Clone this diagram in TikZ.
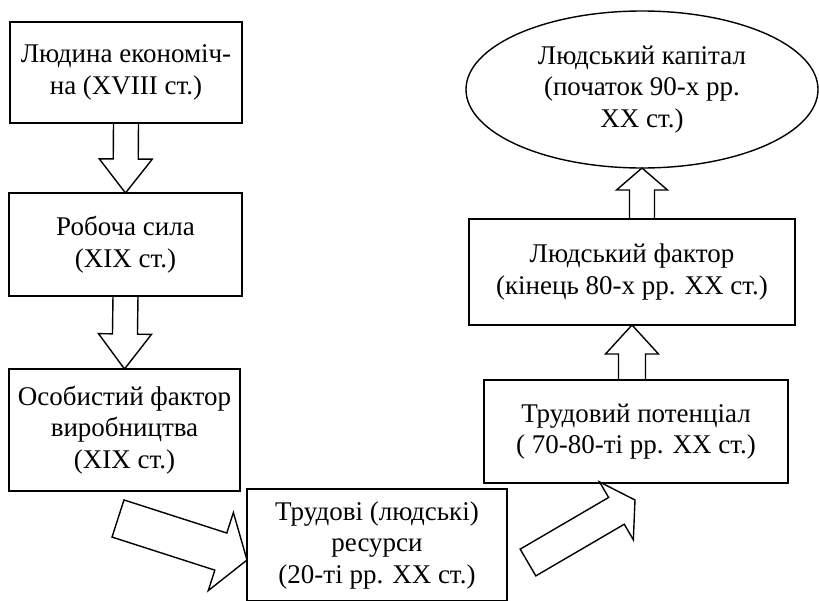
\documentclass[tikz,border=0pt]{standalone}
\usepackage{fontspec}
\setmainfont{Liberation Serif}
\usetikzlibrary{shapes.geometric,calc}
\tikzset{stage/.style={draw=fg,line width=1.4pt,inner sep=0pt,outer sep=0pt,align=center,font=\fontsize{27}{31.5}\selectfont}}
\tikzset{fat/.style={draw=fg,line width=1.4pt,line join=miter}}
\colorlet{fg}{black}
\colorlet{bg}{white}
% hollow arrow: tail, tip, half shaft, half head, head length
\newcommand{\fatarrow}[5]{%
  \coordinate (hb) at ($(#2)!#5!(#1)$);
  \draw[fat] ($(#1)!#3!90:(#2)$) -- ($(hb)!#3!90:(#2)$) -- ($(hb)!#4!90:(#2)$) -- (#2)
    -- ($(hb)!#4!-90:(#2)$) -- ($(hb)!#3!-90:(#2)$) -- ($(#1)!#3!-90:(#2)$) -- cycle;
}

\begin{document}
\begin{tikzpicture}[x=1pt,y=-1pt]
    \useasboundingbox[fill=bg] (0,0) rectangle (819,600);
    \node[stage,minimum width=232pt,minimum height=101pt] (ekon) at (126,72.5) {Людина економіч-\\на (XVIII ст.)};
    \node[stage,minimum width=233pt,minimum height=103pt] (syla) at (125.5,244.5) {Робоча сила\\(XIX ст.)};
    \node[stage,minimum width=231pt,minimum height=122pt] (osob) at (124.5,430) {Особистий фактор\\виробництва\\(XIX ст.)};
    \node[stage,minimum width=260pt,minimum height=112pt] (resursy) at (377,545) {Трудові (людські)\\ресурси\\(20-ті рр. XX ст.)};
    \node[stage,minimum width=304pt,minimum height=103pt] (potential) at (636,431.5) {Трудовий потенціал\\( 70-80-ті рр. XX ст.)};
    \node[stage,minimum width=326pt,minimum height=106pt] (factor) at (632,272) {Людський фактор\\(кінець 80-х рр. XX ст.)};
    \node[stage,ellipse,minimum width=352pt,minimum height=157pt] (capital) at (642,89.5) {Людський капітал\\(початок 90-х рр.\\XX ст.)};
    % arrows
    \coordinate (t1) at (118,518.5);
    \coordinate (r1) at ($(resursy.west)+(0,15)$);
    \coordinate (t2) at (528,562.5);
    \coordinate (r2) at (635,500);
    \coordinate (p5) at (potential.north -| factor.south);
    \coordinate (p6) at (factor.north -| capital.south);
    \fatarrow{ekon.south}{syla.north}{12.5pt}{26.5pt}{34pt}
    \fatarrow{syla.south}{osob.north}{12.5pt}{26.5pt}{35pt}
    \fatarrow{t1}{r1}{19.5pt}{41pt}{27.5pt}
    \fatarrow{t2}{r2}{15.5pt}{33.5pt}{21.5pt}
    \fatarrow{p5}{factor.south}{13.5pt}{26.5pt}{29pt}
    \fatarrow{p6}{capital.south}{12.5pt}{25.5pt}{22pt}
\end{tikzpicture}
\end{document}
